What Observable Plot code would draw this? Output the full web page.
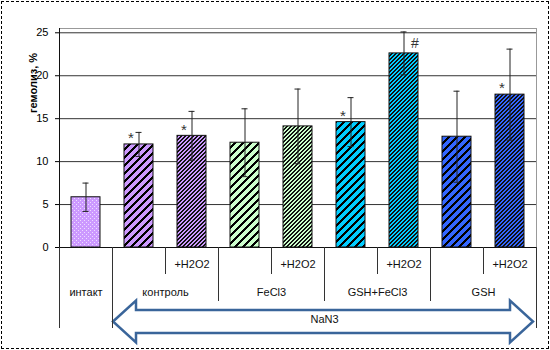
<!DOCTYPE html>
<html><head><meta charset="utf-8">
<script src="https://cdn.jsdelivr.net/npm/d3@7"></script>
<script src="https://cdn.jsdelivr.net/npm/@observablehq/plot@0.6"></script>
<style>
body{margin:0;background:#fff;}
#wrap{position:relative;width:550px;height:350px;overflow:hidden;}
#wrap svg{display:block;}
#wrap:after{content:"";position:absolute;left:1px;top:1px;right:1px;bottom:1px;border:1px dashed #000;pointer-events:none;}
</style></head><body><div id="wrap"></div>
<script>
// ---- data ----
const groups = ["интакт", "контроль", "FeCl3", "GSH+FeCl3", "GSH"];
const groupOf = [0, 1, 1, 2, 2, 3, 3, 4, 4];
const treatments = ["", "", "+H2O2", "", "+H2O2", "", "+H2O2", "", "+H2O2"];
const values = [5.85, 12.0, 13.0, 12.2, 14.1, 14.6, 22.6, 12.9, 17.8];
const errors = [1.65, 1.4, 2.85, 3.95, 4.35, 2.85, 2.5, 5.3, 5.3];
const signif = ["", "*", "*", "", "", "*", "#", "", "*"];
const nan3 = [false, true, true, true, true, true, true, true, true];
const colors = ["#cc99ff", "#cc99ff", "#cc99ff", "#ccffcc", "#ccffcc", "#00ccff", "#00ccff", "#3366ff", "#3366ff"];
const patterns = ["dots", "wide", "dense", "wide", "dense", "wide", "dense", "wide", "dense"];
const yTicks = [0, 5, 10, 15, 20, 25];
const yLabel = "гемолиз, %";
const arrowLabel = "NaN3";

// ---- derived tables ----
const data = values.map((v, i) => ({i, value: v, err: errors[i], mark: signif[i], label: treatments[i]}));
const n = values.length;
const groupData = groups.map((g, k) => {
  const idx = groupOf.map((G, i) => G === k ? i : -1).filter(i => i >= 0);
  return {name: g, start: idx[0], end: idx[idx.length - 1] + 1};
});
const tall = [], mid = [], short = [];
for (let b = 0; b <= n; b++) {
  const left = b - 1, right = b;
  if (b === 0 || b === n || nan3[left] !== nan3[right]) tall.push(b);
  else if (groupOf[left] !== groupOf[right]) mid.push(b);
  else short.push(b);
}
const nanIdx = nan3.map((f, i) => f ? i : -1).filter(i => i >= 0);
const nanSpan = {start: nanIdx[0], end: nanIdx[nanIdx.length - 1] + 1};

const cx = d => d.i + 0.5;
const barMarks = data.map(d => Plot.rectY([d], {
  x1: "i", x2: e => e.i + 1, y: "value",
  insetLeft: 12, insetRight: 12,
  fill: `url(#pat${d.i})`, stroke: "#111", strokeWidth: 1
}));

const plot = Plot.plot({
  width: 550, height: 350,
  marginLeft: 59, marginRight: 14, marginTop: 28, marginBottom: 103,
  style: {fontFamily: "'Liberation Sans', Arial, sans-serif", fontSize: "11px", background: "white", overflow: "visible"},
  x: {domain: [0, n], axis: null},
  y: {domain: [0, 25.5], ticks: yTicks, tickSize: 4, tickPadding: 7, label: null, tickFormat: d3.format("d")},
  marks: [
    Plot.frame({stroke: "#999"}),
    Plot.ruleY(yTicks.filter(t => t > 0), {stroke: "#333", strokeWidth: 1}),
    ...barMarks,
    Plot.ruleX(data, {x: cx, y1: d => d.value - d.err, y2: d => d.value + d.err, stroke: "#222"}),
    Plot.ruleY(data, {x1: cx, x2: cx, y: d => d.value + d.err, insetLeft: -3, insetRight: -3, stroke: "#222"}),
    Plot.ruleY(data, {x1: cx, x2: cx, y: d => d.value - d.err, insetLeft: -3, insetRight: -3, stroke: "#222"}),
    Plot.ruleX([0], {stroke: "#111"}),
    Plot.ruleY([0], {stroke: "#111"}),
    // separators below the axis
    Plot.ruleX(short, {x: d => d, y1: 0, y2: 0, insetBottom: -27, stroke: "#333"}),
    Plot.ruleX(mid, {x: d => d, y1: 0, y2: 0, insetBottom: -54, stroke: "#333"}),
    Plot.ruleX(tall, {x: d => d, y1: 0, y2: 0, insetBottom: -81, stroke: "#333"}),
    // category labels
    Plot.text(data.filter(d => d.label), {x: cx, y: 0, text: "label", dy: 17, fill: "#111"}),
    Plot.text(groupData, {x: d => (d.start + d.end) / 2, y: 0, text: "name", dy: 45, fill: "#111", letterSpacing: "0.4px"}),
    Plot.text([arrowLabel], {x: () => (nanSpan.start + nanSpan.end) / 2, y: () => 0, text: d => d, dy: 72, fill: "#111"}),
    // significance marks
    Plot.text(data.filter(d => d.mark === "*"), {x: cx, y: "value", text: "mark", dx: -8, dy: -6, fontSize: 15, fill: "#333"}),
    Plot.text(data.filter(d => d.mark === "#"), {x: cx, y: "value", text: "mark", dx: 11, dy: -10, fontSize: 14, fill: "#333"}),
    // y label
    Plot.text([yLabel], {frameAnchor: "left", textAnchor: "middle", text: d => d, rotate: -90, dx: -26, dy: -55, fontWeight: "bold"})
  ]
});

// ---- fill patterns ----
const svg = d3.select(plot);
const defs = svg.insert("defs", ":first-child");
patterns.forEach((p, i) => {
  const size = p === "wide" ? 8 : 4;
  const pat = defs.append("pattern").attr("id", `pat${i}`).attr("patternUnits", "userSpaceOnUse")
    .attr("width", size).attr("height", size);
  pat.append("rect").attr("width", size).attr("height", size).attr("fill", colors[i]);
  for (let px = 0; px < size; px++) for (let py = 0; py < size; py++) {
    let on, col;
    if (p === "wide") { on = ((px + py) % 8) < 3; col = "#000"; }
    else if (p === "dense") { on = ((px + py) % 4) < 2; col = "#111"; }
    else { on = (px === 0 && py === 0) || (px === 2 && py === 2); col = "#eeddff"; }
    if (on) pat.append("rect").attr("x", px).attr("y", py).attr("width", 1).attr("height", 1)
      .attr("fill", col).attr("shape-rendering", "crispEdges");
  }
});

// ---- NaN3 block arrow spanning the NaN3 groups ----
const xs = plot.scale("x"), ys = plot.scale("y");
const x0 = xs.apply(nanSpan.start) + 1, x1 = xs.apply(nanSpan.end) - 3;
const yc = ys.apply(0) + 74.5, hs = 11.5, hh = 21, hl = 23;
const pts = [[x0, yc], [x0 + hl, yc - hh], [x0 + hl, yc - hs], [x1 - hl, yc - hs], [x1 - hl, yc - hh], [x1, yc],
  [x1 - hl, yc + hh], [x1 - hl, yc + hs], [x0 + hl, yc + hs], [x0 + hl, yc + hh]];
svg.insert("path", "defs + *").attr("d", "M" + pts.map(p => p.join(",")).join("L") + "Z")
  .attr("fill", "#fff").attr("stroke", "#3a659a").attr("stroke-width", 2.5).attr("stroke-linejoin", "miter");

document.getElementById("wrap").appendChild(plot);
</script></body></html>
